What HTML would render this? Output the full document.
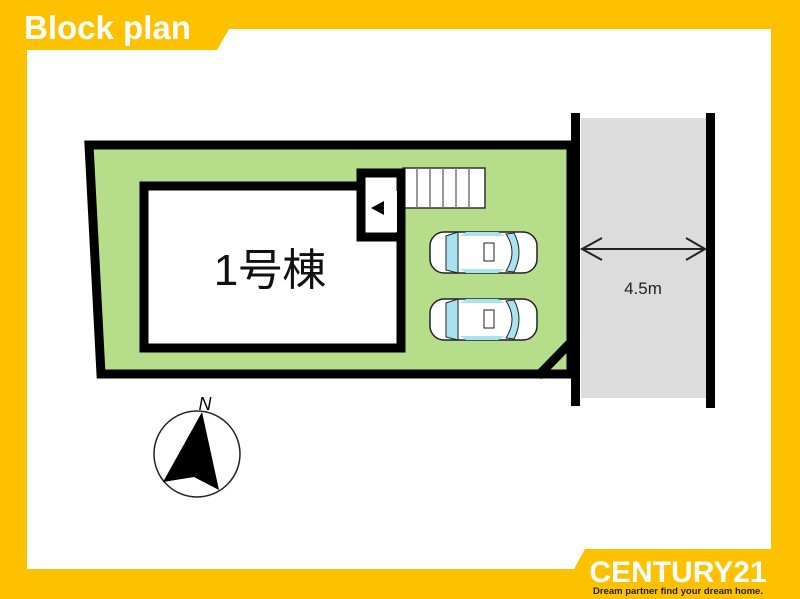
<!DOCTYPE html>
<html><head><meta charset="utf-8"><style>
body{margin:0;width:800px;height:599px;overflow:hidden;background:#fdc100}
svg{display:block}
</style></head><body>
<svg width="800" height="599" viewBox="0 0 800 599" xmlns="http://www.w3.org/2000/svg">
<rect width="800" height="599" fill="#fdc100"/>
<polygon points="27,50 217,50 229,29 771,29 771,549 585,549 574,569 27,569" fill="#fff"/>
<text x="24" y="39" font-family="Liberation Sans, sans-serif" font-weight="bold" font-size="33" fill="#fff">Block plan</text>
<!-- road -->
<rect x="581" y="118" width="125" height="280" fill="#dcdcdc"/>
<rect x="571" y="113" width="9" height="293" fill="#000"/>
<rect x="706" y="113" width="9" height="295" fill="#000"/>
<line x1="582" y1="249" x2="705" y2="249" stroke="#222" stroke-width="2"/>
<polyline points="602,238 582,249 602,260" fill="none" stroke="#222" stroke-width="2"/>
<polyline points="686,238 705,249 686,260" fill="none" stroke="#222" stroke-width="2"/>
<text x="643" y="294" text-anchor="middle" font-family="Liberation Sans, sans-serif" font-size="17" fill="#222">4.5m</text>
<!-- lot -->
<polygon points="89,145 571,145 571,374 101,374" fill="#b5dd8a" stroke="#000" stroke-width="9"/>
<line x1="538" y1="376" x2="573" y2="340" stroke="#000" stroke-width="9"/>
<!-- stairs -->
<rect x="403" y="168" width="82" height="40" fill="#fff" stroke="#333" stroke-width="1.5"/>
<g stroke="#777" stroke-width="1.5">
<line x1="417" y1="168" x2="417" y2="208"/><line x1="430" y1="168" x2="430" y2="208"/><line x1="443" y1="168" x2="443" y2="208"/><line x1="456" y1="168" x2="456" y2="208"/><line x1="469" y1="168" x2="469" y2="208"/></g>
<!-- building -->
<rect x="144" y="186" width="257" height="162" fill="#fff" stroke="#000" stroke-width="9"/>
<rect x="361" y="173" width="40" height="64" fill="#fff" stroke="#000" stroke-width="9"/>
<rect x="367" y="191" width="30" height="41" fill="#fff"/>
<polygon points="371,208 384,201 384,215" fill="#000"/>
<text x="270" y="285" text-anchor="middle" font-family="Liberation Sans, 'Noto Sans CJK JP', sans-serif" font-size="44" fill="#111">1号棟</text>
<!-- cars -->
<g id="car">
<rect x="430" y="232" width="107" height="41" rx="14" fill="#fff" stroke="#222" stroke-width="1.5"/>
<path d="M446,236 L458,232 L458,273 L446,270 Z" fill="#a8e3f3" stroke="#222"/>
<path d="M506,234 Q518,252 506,271 L514,272 Q524,252 514,233 Z" fill="#a8e3f3" stroke="#222"/>
<path d="M460,236 L505,236 L498,232 L466,232 Z" fill="#a8e3f3"/>
<path d="M460,269 L505,269 L498,273 L466,273 Z" fill="#a8e3f3"/>
<rect x="484" y="243" width="10" height="18" fill="#fff" stroke="#222"/>
</g>
<use href="#car" y="67"/>
<!-- compass -->
<circle cx="197" cy="454" r="43" fill="#fff" stroke="#222" stroke-width="1.5"/>
<polygon points="202,412 163,482 194,477 219,490" fill="#000"/>
<text x="205" y="410" text-anchor="middle" font-family="Liberation Sans, sans-serif" font-style="italic" font-size="18" fill="#000">N</text>
<!-- logo -->
<text x="678" y="582" text-anchor="middle" font-family="Liberation Sans, sans-serif" font-weight="bold" font-size="30" fill="#fff">CENTURY21</text>
<text x="678" y="594" text-anchor="middle" font-family="Liberation Sans, sans-serif" font-weight="bold" font-size="9.5" fill="#222">Dream partner find your dream home.</text>
</svg>
</body></html>
